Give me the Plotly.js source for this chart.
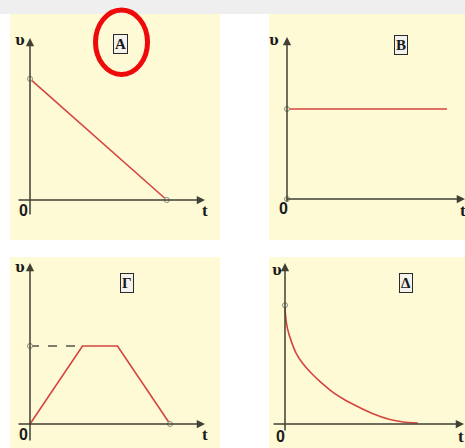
<!DOCTYPE html>
<html>
<head>
<meta charset="utf-8">
<script src="https://cdn.plot.ly/plotly-3.0.1.min.js"></script>
<style>html,body{margin:0;padding:0;background:#fff;}#chart{width:465px;height:448px;}</style>
</head>
<body>
<div id="chart"></div>
<script>
// ---- data ----
const panelLabels = ["A", "B", "Γ", "Δ"];
const axisLabelV = "υ";
const axisLabelT = "t";
const originLabel = "0";

const tA = [0, 8];
const vA = [6, 0];

const tB = [0, 10];
const vB = [5, 5];

const tG = [0, 3, 5, 8];
const vG = [0, 4, 4, 0];
const tGdash = [0, 3];
const vGdash = [4, 4];

const tD = [0, 0.03, 0.15, 0.4, 0.7, 1.1, 1.65, 2.3, 3.0, 3.7, 4.5, 5.5, 6.5, 7.4, 8.3];
const vD = [6.0, 5.5, 4.83, 4.16, 3.57, 3.07, 2.56, 2.06, 1.6, 1.24, 0.9, 0.52, 0.24, 0.1, 0.05];

// ---- layout geometry (pixels) ----
const W = 465, H = 448;
const panels = [
  {rect:[10,220,14,240],  ox:30,  oy:200, sx:17.1, sy:20.2, xTip:205, xStart:17,  yTip:38,  yEnd:216, box:[120.5,43.5], vLab:[20,40], oLab:[23,210], tLab:[205,211]},
  {rect:[269,465,14,240], ox:287, oy:199, sx:16,   sy:18,   xTip:465, xStart:285, yTip:37,  yEnd:203, box:[401,45],    vLab:[274,40], oLab:[283,208], tLab:[463,210]},
  {rect:[10,220,257,448], ox:30,  oy:424, sx:17.5, sy:19.5, xTip:205, xStart:17,  yTip:263, yEnd:442, box:[127,283],   vLab:[20,267], oLab:[23,434], tLab:[205,434]},
  {rect:[269,465,257,448],ox:285, oy:424, sx:16,   sy:19.8, xTip:464, xStart:272, yTip:263, yEnd:432, box:[406,283],   vLab:[277,270], oLab:[280,436], tLab:[461,436]}
];

const red = '#d4453f';
const axisCol = '#404035';
const dotCol = '#8a8a7c';

const layout = {
  width: W, height: H,
  margin: {l:0, r:0, t:0, b:0},
  paper_bgcolor: '#ffffff',
  plot_bgcolor: 'rgba(0,0,0,0)',
  showlegend: false,
  shapes: [],
  annotations: []
};

// background band at top
layout.shapes.push({type:'rect', xref:'paper', yref:'paper', x0:0, x1:1, y0:1-14/H, y1:1,
  fillcolor:'#efefef', line:{width:0}, layer:'below'});

panels.forEach((p, i) => {
  const n = i === 0 ? '' : String(i+1);
  const [x0,x1,y0,y1] = p.rect;
  layout['xaxis'+n] = {
    domain:[x0/W, x1/W], range:[(x0-p.ox)/p.sx, (x1-p.ox)/p.sx],
    visible:false, fixedrange:true, anchor:'y'+n
  };
  layout['yaxis'+n] = {
    domain:[1-y1/H, 1-y0/H], range:[(p.oy-y1)/p.sy, (p.oy-y0)/p.sy],
    visible:false, fixedrange:true, anchor:'x'+n
  };
  layout.shapes.push({type:'rect', xref:'paper', yref:'paper', x0:x0/W, x1:x1/W, y0:1-y1/H, y1:1-y0/H,
    fillcolor:'#fefad6', line:{width:0}, layer:'below'});
  // axis arrows
  layout.annotations.push({xref:'x'+n, yref:'y'+n, axref:'x'+n, ayref:'y'+n,
    x:(p.xTip-p.ox)/p.sx, y:0, ax:(p.xStart-p.ox)/p.sx, ay:0, text:'', showarrow:true,
    arrowhead:2, arrowsize:1.1, arrowwidth:1.5, arrowcolor:axisCol, standoff:0});
  layout.annotations.push({xref:'x'+n, yref:'y'+n, axref:'x'+n, ayref:'y'+n,
    x:0, y:(p.oy-p.yTip)/p.sy, ax:0, ay:(p.oy-p.yEnd)/p.sy, text:'', showarrow:true,
    arrowhead:2, arrowsize:1.1, arrowwidth:1.5, arrowcolor:axisCol, standoff:0});
  // labels
  layout.annotations.push({xref:'paper', yref:'paper', x:p.box[0]/W, y:1-p.box[1]/H,
    text:'<b>'+panelLabels[i]+'</b>', showarrow:false, xanchor:'center', yanchor:'middle',
    font:{family:'Liberation Serif, DejaVu Serif, serif', size:15, color:'#1a1a1a'},
    bgcolor:'#f3f2ec', bordercolor:'#2a2a2a', borderwidth:1, borderpad:1});
  layout.annotations.push({xref:'paper', yref:'paper', x:p.vLab[0]/W, y:1-p.vLab[1]/H,
    text:'<b>'+axisLabelV+'</b>', showarrow:false, xanchor:'center', yanchor:'middle',
    font:{family:'DejaVu Serif, serif', size:14, color:'#1a1a1a'}});
  layout.annotations.push({xref:'paper', yref:'paper', x:p.oLab[0]/W, y:1-p.oLab[1]/H,
    text:'<b>'+originLabel+'</b>', showarrow:false, xanchor:'center', yanchor:'middle',
    font:{family:'Liberation Sans, Arial, sans-serif', size:16, color:'#1a1a1a'}});
  layout.annotations.push({xref:'paper', yref:'paper', x:p.tLab[0]/W, y:1-p.tLab[1]/H,
    text:'<b>'+axisLabelT+'</b>', showarrow:false, xanchor:'center', yanchor:'middle',
    font:{family:'Liberation Serif, DejaVu Serif, serif', size:17, color:'#1a1a1a'}});
});

// red highlight ellipse around label A
layout.shapes.push({type:'circle', xref:'paper', yref:'paper',
  x0:95.5/W, x1:147.5/W, y0:1-74.5/H, y1:1-10/H, line:{color:'#ee0a0a', width:5}, layer:'above'});

const line = (x, y, ax, extra) => Object.assign({x, y, xaxis:'x'+ax, yaxis:'y'+ax, mode:'lines',
  line:{color:red, width:1.6}, hoverinfo:'skip', cliponaxis:false}, extra||{});
const dots = (x, y, ax) => ({x, y, xaxis:'x'+ax, yaxis:'y'+ax, mode:'markers',
  marker:{symbol:'circle', size:5, color:'#fefad6', line:{color:dotCol, width:1}}, hoverinfo:'skip', cliponaxis:false});

const traces = [
  line(tA, vA, ''),
  dots([tA[0], tA[tA.length-1]], [vA[0], vA[vA.length-1]], ''),
  line(tB, vB, '2'),
  dots([tB[0], 0], [vB[0], 0], '2'),
  line(tGdash, vGdash, '3', {line:{color:'#555548', width:1.5, dash:'dash'}}),
  line(tG, vG, '3'),
  dots([tGdash[0], tG[tG.length-1]], [vGdash[0], vG[vG.length-1]], '3'),
  line(tD, vD, '4', {line:{color:red, width:1.6, shape:'spline', smoothing:0.6}}),
  dots([tD[0]], [vD[0]], '4')
];

Plotly.newPlot('chart', traces, layout, {displayModeBar:false, staticPlot:true});
</script>
</body>
</html>
